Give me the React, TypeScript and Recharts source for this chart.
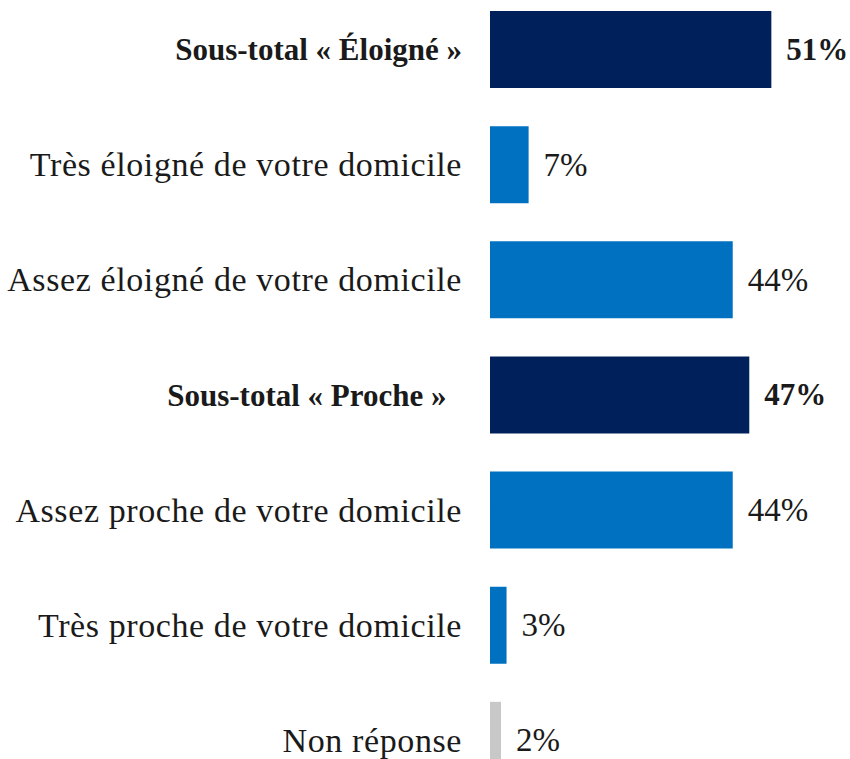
import React from "react";
import { Bar, BarChart, Cell, LabelList, XAxis, YAxis } from "recharts";

const categories = [
  "Sous-total « Éloigné »",
  "Très éloigné de votre domicile",
  "Assez éloigné de votre domicile",
  "Sous-total « Proche »\u00a0\u00a0",
  "Assez proche de votre domicile",
  "Très proche de votre domicile",
  "Non réponse",
];
const values = [51, 7, 44, 47, 44, 3, 2];
const subtotals = [true, false, false, true, false, false, false];
const colors = ["#00205B", "#0070C0", "#0070C0", "#00205B", "#0070C0", "#0070C0", "#C8C8C8"];

const data = categories.map((name, i) => ({ name, value: values[i] }));

const FONT = "'Liberation Serif', serif";

function CategoryTick(props: any) {
  const { x, y, payload, index } = props;
  const bold = subtotals[index];
  return (
    <text
      x={x}
      y={y}
      textAnchor="end"
      dominantBaseline="central"
      fontFamily={FONT}
      fontSize={bold ? 31 : 34}
      fontWeight={bold ? 700 : 400}
      letterSpacing={bold ? 0 : 0.6}
      fill="#1a1a1a"
      style={{ whiteSpace: "pre" }}
    >
      {payload.value}
    </text>
  );
}

function ValueLabel(props: any) {
  const { x, y, width, height, value, index } = props;
  const bold = subtotals[index];
  return (
    <text
      x={x + width + 15}
      y={y + height / 2}
      dominantBaseline="central"
      fontFamily={FONT}
      fontSize={bold ? 31 : 33}
      fontWeight={bold ? 700 : 400}
      fill="#1a1a1a"
    >
      {`${value}%`}
    </text>
  );
}

export default function App() {
  return (
    <div style={{ position: "absolute", left: 0, top: -20 }}>
      <BarChart
        width={850}
        height={818}
        data={data}
        layout="vertical"
        margin={{ top: 12, right: 29, bottom: 0, left: 0 }}
      >
        <XAxis type="number" domain={[0, 60]} hide />
        <YAxis
          type="category"
          dataKey="name"
          width={490}
          axisLine={false}
          tickLine={false}
          tickSize={0}
          tickMargin={28}
          interval={0}
          tick={CategoryTick}
        />
        <Bar dataKey="value" barSize={77} isAnimationActive={false}>
          {data.map((d, i) => (
            <Cell key={d.name} fill={colors[i]} />
          ))}
          <LabelList dataKey="value" content={ValueLabel} />
        </Bar>
      </BarChart>
    </div>
  );
}
